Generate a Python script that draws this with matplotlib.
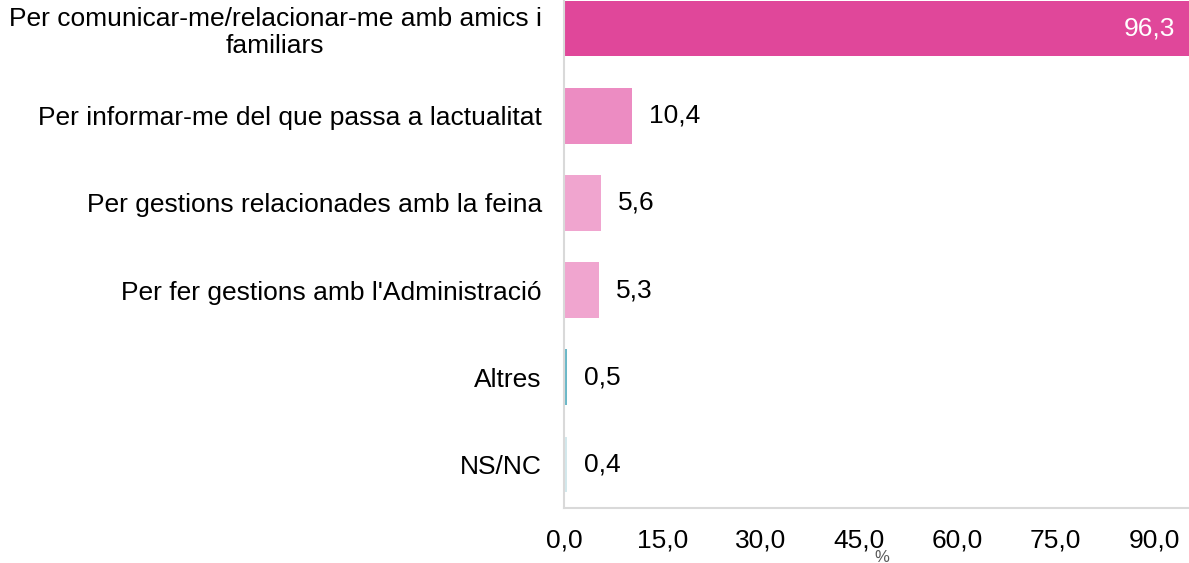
import matplotlib.pyplot as plt
from matplotlib.ticker import FuncFormatter

categories = [
    "Per comunicar-me/relacionar-me amb amics i\nfamiliars",
    "Per informar-me del que passa a lactualitat",
    "Per gestions relacionades amb la feina",
    "Per fer gestions amb l'Administració",
    "Altres",
    "NS/NC",
]
values = [96.3, 10.4, 5.6, 5.3, 0.5, 0.4]
colors = ["#E0479A", "#EC8CC2", "#F0A5CF", "#F0A5CF", "#6BB8C8", "#D3E8EC"]
xticks = [0, 15, 30, 45, 60, 75, 90]

plt.rcParams["font.family"] = ["Liberation Sans", "DejaVu Sans"]
FS = 19

W, H = 1189, 563
fig = plt.figure(figsize=(W / 100, H / 100), dpi=100)
# axes: x0 at 564px, 6.556 px/unit; y band bottom 508, top -15
x0, ppu = 564, 590 / 90
xmax = 100
ax_w = xmax * ppu
y_top, y_bot = -15, 508
ax = fig.add_axes([x0 / W, (H - y_bot) / H, ax_w / W, (y_bot - y_top) / H])

y = list(range(len(categories)))
ax.barh(y, values, height=0.64, color=colors, zorder=2)
ax.set_ylim(len(categories) - 0.5, -0.5)
ax.set_xlim(0, xmax)

for i, v in enumerate(values):
    txt = f"{v:.1f}".replace(".", ",")
    if i == 0:
        ax.text(v - 3.1, i, txt, ha="right", va="center", color="white", fontsize=FS)
    else:
        ax.text(v + 2.6, i, txt, ha="left", va="center", color="#000000", fontsize=FS)

ax.set_yticks(y)
ax.set_yticklabels(categories, fontsize=FS, multialignment="center", linespacing=1.15)
ax.set_xticks(xticks)
ax.xaxis.set_major_formatter(FuncFormatter(lambda v, p: f"{v:.1f}".replace(".", ",")))
ax.tick_params(axis="x", labelsize=FS, length=0, pad=15)
ax.tick_params(axis="y", length=0, pad=16)

for s in ["top", "right"]:
    ax.spines[s].set_visible(False)
for s in ["left", "bottom"]:
    ax.spines[s].set_color("#D9D9D9")
    ax.spines[s].set_linewidth(1.5)

# the "%" label sits under the 45,0 tick, as in the source
fig.text(882 / W, 1 - 557 / H, "%", fontsize=12, color="#595959", ha="center", va="center")

fig.savefig("out.png", dpi=100)
